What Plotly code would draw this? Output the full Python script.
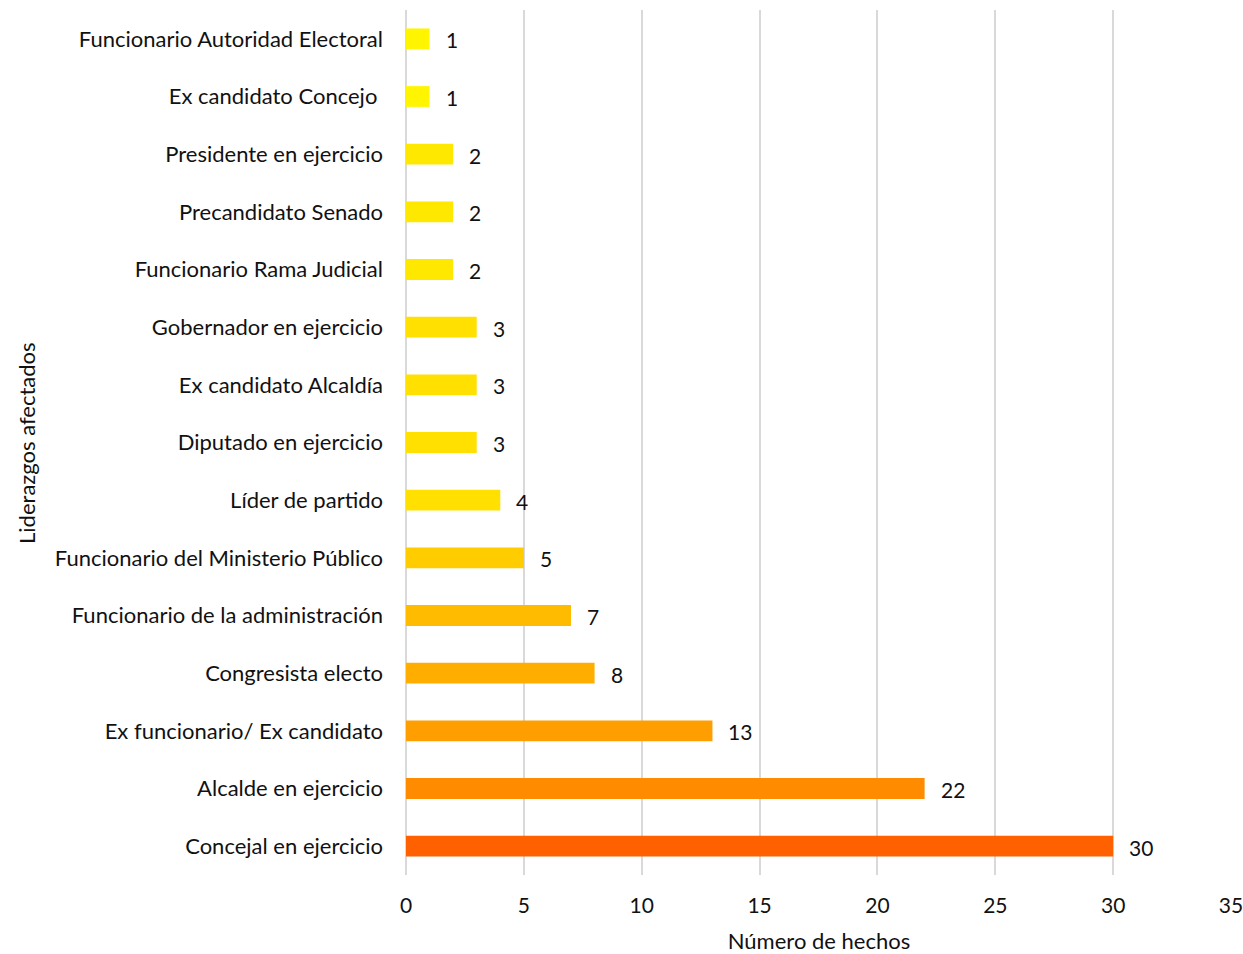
import plotly.graph_objects as go

categories = [
    "Concejal en ejercicio",
    "Alcalde en ejercicio",
    "Ex funcionario/ Ex candidato",
    "Congresista electo",
    "Funcionario de la administración",
    "Funcionario del Ministerio Público",
    "Líder de partido",
    "Diputado en ejercicio",
    "Ex candidato Alcaldía",
    "Gobernador en ejercicio",
    "Funcionario Rama Judicial",
    "Precandidato Senado",
    "Presidente en ejercicio",
    "Ex candidato Concejo ",
    "Funcionario Autoridad Electoral",
]
values = [30, 22, 13, 8, 7, 5, 4, 3, 3, 3, 2, 2, 2, 1, 1]
colors = ["#FF6100", "#FF8C00", "#FF9E00", "#FFAE00", "#FFBB00", "#FFCC00",
          "#FFE000", "#FFE000", "#FFE000", "#FFE000", "#FFE800", "#FFE800",
          "#FFE800", "#FFF500", "#FFF500"]
x_ticks = [0, 5, 10, 15, 20, 25, 30, 35]

FONT = "Lato, Open Sans, sans-serif"

fig = go.Figure()
fig.add_trace(go.Bar(
    y=categories, x=values, orientation="h",
    marker=dict(color=colors, line=dict(width=0)),
    width=0.36, showlegend=False,
))
for c, v in zip(categories, values):
    fig.add_annotation(x=v, y=c, text=str(v), showarrow=False,
                       xanchor="left", xshift=14, yshift=-1,
                       font=dict(family=FONT, size=21, color="#111111"))

fig.add_annotation(text="Liderazgos afectados", textangle=-90,
                   xref="paper", yref="paper", x=-0.4595, y=0.5,
                   xanchor="center", yanchor="middle", showarrow=False,
                   font=dict(family=FONT, size=22, color="#111111"))

fig.update_layout(
    width=1243, height=954,
    margin=dict(l=406, r=11, t=10, b=79, autoexpand=False),
    plot_bgcolor="white", paper_bgcolor="white",
    font=dict(family=FONT, size=22, color="#111111"),
    bargap=0.6,
)
fig.update_xaxes(
    range=[0, 35.04], tickvals=x_ticks, showgrid=True, gridcolor="#d9d9d9",
    gridwidth=2, zeroline=True, zerolinecolor="#d9d9d9", zerolinewidth=2,
    showline=False, ticks="", tickfont=dict(size=21), ticklabelstandoff=16,
    ticklabeloverflow="allow",
    title=dict(text="Número de hechos", font=dict(size=22), standoff=26),
)
fig.update_yaxes(
    categoryorder="array", categoryarray=categories,
    showgrid=False, ticks="", ticklen=0, ticklabelstandoff=22,
    tickfont=dict(size=22),
)
fig.write_html(
    "out.html",
    config={"displayModeBar": False},
    post_script="document.body.style.margin='0';document.body.style.overflow='hidden';",
)
